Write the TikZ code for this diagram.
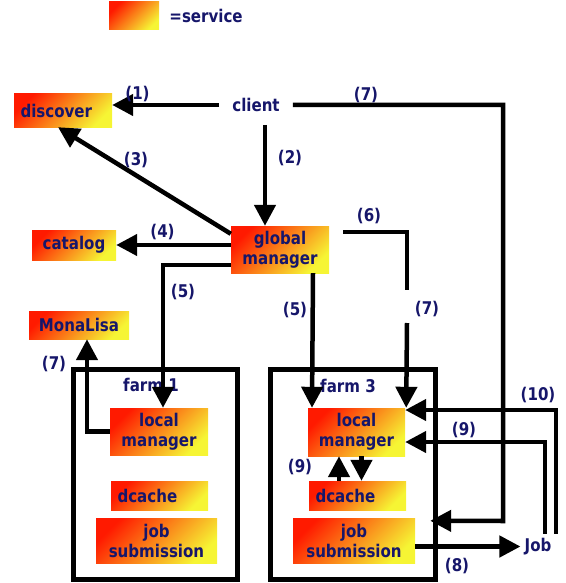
\documentclass[tikz,border=0pt]{standalone}
\usepackage{fontspec}
\setmainfont{DejaVu Sans}[FakeStretch=0.86]
\usepackage{xcolor}
\usetikzlibrary{arrows.meta, positioning}
\definecolor{svcRed}{HTML}{FF1A00}
\definecolor{svcYellow}{HTML}{F6F534}
\definecolor{textBlue}{HTML}{16166A}

\tikzset{
    svc/.style={shading=axis, top color=svcRed, bottom color=svcYellow, shading angle=45,
        inner sep=0pt, align=center, text=textBlue, font=\bfseries\fontsize{17.5}{20}\selectfont},
    svcleft/.style={svc, inner xsep=6.5pt, align=left},
    lbl/.style={inner sep=0pt, text=textBlue, font=\bfseries\fontsize{17.5}{20}\selectfont},
    arr/.style={line width=4.5pt, -{Triangle[length=21pt,width=21pt]}},
    wire/.style={line width=4.5pt},
    farmbox/.style={line width=5pt}
}

\begin{document}
\begin{tikzpicture}[x=1pt,y=-1pt]
        \useasboundingbox (0,0) rectangle (565,583);

        \node[svc, minimum width=50pt, minimum height=28pt] (legend) at (134,16) {};
        \node[lbl, right=10pt of legend] (legendtxt) {=service};

        \node[lbl, inner sep=13pt] (client) at (256,105) {client};
        \node[svcleft, text width=85pt, minimum height=33pt] (disc) at (63,110.5) {discover};
        \node[svc, minimum width=98pt, minimum height=47pt] (gm) at (280,249.5) {global\\manager};
        \node[svc, minimum width=84pt, minimum height=30pt] (cat) at (74,245) {catalog};
        \node[svc, minimum width=100pt, minimum height=28pt] (mona) at (79,325) {MonaLisa};

        \draw[farmbox] (73.5,369.5) rectangle (237.5,579);
        \draw[farmbox] (270.5,369.5) rectangle (435,579);
        \node[lbl] (farm1) at (151,385) {farm 1};
        \node[lbl] (farm3) at (348,386) {farm 3};

        \node[svc, minimum width=98pt, minimum height=47pt] (lm1) at (159,431.5) {local\\manager};
        \node[svcleft, text width=84pt, minimum height=29pt] (dc1) at (159.5,495.5) {dcache};
        \node[svc, minimum width=121pt, minimum height=45pt] (js1) at (156.5,540.5) {job\\submission};

        \node[svc, minimum width=97pt, minimum height=48pt] (lm3) at (356.5,432) {local\\manager};
        \node[svcleft, text width=84pt, minimum height=29pt] (dc3) at (357.5,495.5) {dcache};
        \node[svc, minimum width=122pt, minimum height=45pt] (js3) at (354,540.5) {job\\submission};

        \node[lbl, inner sep=4pt] (job) at (538,546.5) {Job};

        \coordinate (c7) at (503,521);
        \coordinate (g6) at (407,290);
        \coordinate (g7) at (407,323);

        \draw[arr] (client.west) -- (client.west -| disc.east);
        \draw[arr] ([xshift=9pt]client.south) -- ([xshift=9pt]client.south |- gm.north);
        \draw[arr] ([yshift=-8pt]gm.north west) -- ([xshift=-5pt]disc.south);
        \draw[arr] (gm.west |- cat.east) -- (cat.east);
        \draw[arr] ([yshift=-15.5pt]gm.west) -| ([xshift=4pt]lm1.north);
        \draw[arr] ([xshift=33pt]gm.south) -- ([xshift=-44.5pt]lm3.north);
        \draw[wire] ([xshift=14pt,yshift=-6pt]gm.north east) -| (g6);
        \draw[arr] (g7) -- ([xshift=1pt]lm3.north east);
        \draw[arr] (client.east) -| (c7) -- ([xshift=15pt,yshift=-3pt]js3.north east);
        \draw[arr] (lm1.west) -| ([xshift=8pt]mona.south);
        \draw[arr] ([xshift=-18.5pt]dc3.north) -- ([xshift=-18.5pt]dc3.north |- lm3.south);
        \draw[arr] ([xshift=5pt]lm3.south) -- ([xshift=5pt]lm3.south |- dc3.north);
        \draw[arr] ([yshift=-6pt]js3.east) -- (job.west);
        \draw[arr] ([xshift=7pt]job.north) |- ([yshift=-10pt]lm3.east);
        \draw[arr] ([xshift=18pt]job.north) |- ([yshift=22pt]lm3.east);

        \node[lbl] (l1) at (137.5,94) {(1)};
        \node[lbl] (l2) at (290,158) {(2)};
        \node[lbl] (l3) at (136,160) {(3)};
        \node[lbl] (l4) at (162.5,232) {(4)};
        \node[lbl] (l5a) at (183,292) {(5)};
        \node[lbl] (l5b) at (295,310) {(5)};
        \node[lbl] (l6) at (369,216) {(6)};
        \node[lbl] (l7a) at (366,95) {(7)};
        \node[lbl] (l7b) at (427,309) {(7)};
        \node[lbl] (l7c) at (54,364) {(7)};
        \node[lbl] (l8) at (457,566) {(8)};
        \node[lbl] (l9a) at (300,467) {(9)};
        \node[lbl] (l9b) at (464,430) {(9)};
        \node[lbl] (l10) at (538,395) {(10)};
    \end{tikzpicture}
\end{document}
